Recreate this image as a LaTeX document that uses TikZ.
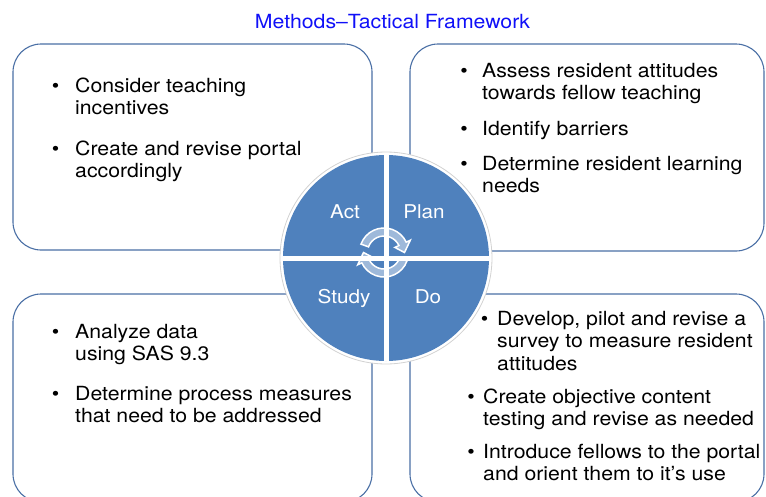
\documentclass[tikz,border=0pt]{standalone}
\usepackage{fontspec}
\setmainfont{TeX Gyre Heros}[FakeStretch=1.09]
\usetikzlibrary{calc}

\definecolor{boxblue}{HTML}{4A6FA5}
\definecolor{pdsablue}{HTML}{4F81BD}
\definecolor{titleblue}{HTML}{1010F8}

% bullet list kept in one tabular: bullet column width, then the lines
\newcommand\pts[2]{\begin{tabular}[t]{@{}p{#1}@{}l@{}}\makebox[0pt]{\textbullet}&#2\end{tabular}}

\begin{document}
\begin{tikzpicture}[x=1pt,y=-1pt]

	\tikzset{phase box/.style={draw=boxblue,line width=1.1pt,rounded corners=28pt,inner sep=0pt}}
	\tikzset{bullets/.style={anchor=base west,inner sep=0pt,font=\fontsize{19.5pt}{22.5pt}\selectfont}}
	\tikzset{phase/.style={anchor=base,inner sep=0pt,text=white,font=\fontsize{19pt}{22pt}\selectfont}}
	\tikzset{cycle arrow/.style={fill=white,fill opacity=0.45,draw=white,line width=1.5pt}}

	\useasboundingbox (0,0) rectangle (766,496);
	\clip (0,0) rectangle (766,496);

	\node[anchor=base,inner sep=0pt,text=titleblue,font=\fontsize{19.5pt}{22pt}\selectfont] (title) at (392.5,28) {Methods--Tactical Framework};

	% the four boxes
	\node[phase box,minimum width=359pt,minimum height=206pt] (act box) at (192.5,147) {};
	\node[phase box,minimum width=354pt,minimum height=207pt] (plan box) at (587,147.5) {};
	\node[phase box,minimum width=359pt,minimum height=208pt] (study box) at (192.5,398) {};
	\node[phase box,minimum width=354pt,minimum height=208pt] (do box) at (587,398) {};

	\node[bullets] (act1) at (55.5,92) {\pts{19.5pt}{Consider teaching\\ & incentives}};
	\node[bullets] (act2) at (55.5,155) {\pts{19.5pt}{Create and revise portal\\ & accordingly}};

	\node[bullets] (plan1) at (464,77) {\pts{18pt}{Assess resident attitudes\\ & towards fellow teaching}};
	\node[bullets] (plan2) at (464,135) {\pts{18pt}{Identify barriers}};
	\node[bullets] (plan3) at (464,170) {\pts{18pt}{Determine resident learning\\ & needs}};

	\node[bullets] (study1) at (55.5,338) {\pts{19.5pt}{Analyze data\\ & using SAS 9.3}};
	\node[bullets] (study2) at (55.5,400) {\pts{19.5pt}{Determine process measures\\ & that need to be addressed}};

	\node[bullets] (do1) at (484.5,325) {\pts{12.5pt}{Develop, pilot and revise a\\ & survey to measure resident\\ & attitudes}};
	\node[bullets] (do2) at (471,403) {\pts{12pt}{Create objective content\\ & testing and revise as needed}};
	\node[bullets] (do3) at (471,458) {\pts{12pt}{Introduce fellows to the portal\\ & and orient them to it's use}};

	% the cycle wheel
	\node[circle,fill=white,draw=gray!35,line width=0.8pt,minimum size=212pt,inner sep=0pt] (ring) at (386,258) {};
	\node[circle,fill=pdsablue,minimum size=206pt,inner sep=0pt] (pdsa) at (386,258) {};
	\draw[white,line width=5pt] (pdsa.north) -- (pdsa.south);
	\draw[white,line width=5pt] (pdsa.west) -- (pdsa.east);

	\node[phase] (act) at (345,218) {Act};
	\node[phase] (plan) at (424,218) {Plan};
	\node[phase] (study) at (344,303) {Study};
	\node[phase] (do) at (428,303) {Do};

	% turning arrows in the middle
	\begin{scope}[shift={(384,252.5)}]
		\filldraw[cycle arrow] (-160:24.5) arc[start angle=-160,end angle=-25,radius=24.5] -- (-25:29) -- (0:20.5) -- (-25:12) -- (-25:16.5) arc[start angle=-25,end angle=-160,radius=16.5] -- cycle;
	\end{scope}
	\begin{scope}[shift={(384,252.5)},rotate=180]
		\filldraw[cycle arrow] (-160:24.5) arc[start angle=-160,end angle=-25,radius=24.5] -- (-25:29) -- (0:20.5) -- (-25:12) -- (-25:16.5) arc[start angle=-25,end angle=-160,radius=16.5] -- cycle;
	\end{scope}

\end{tikzpicture}
\end{document}
